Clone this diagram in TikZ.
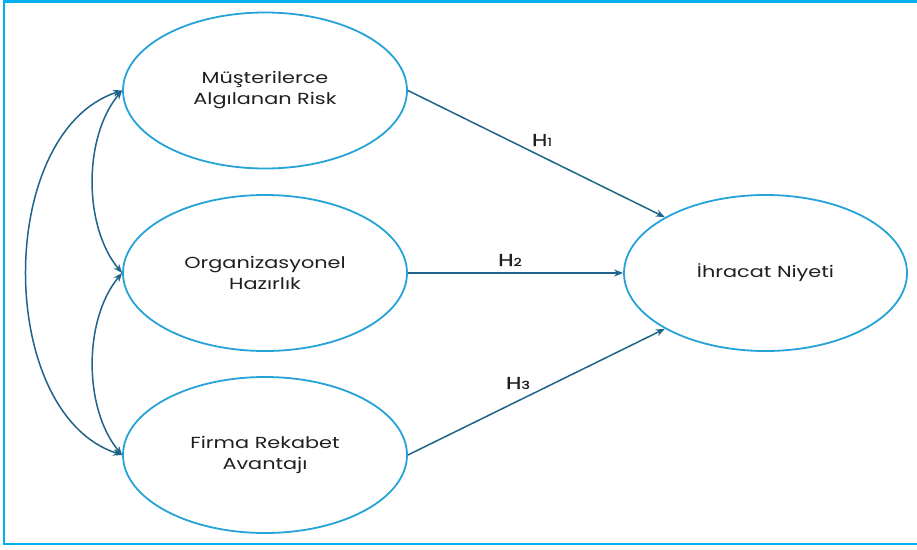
\documentclass[tikz,border=0pt]{standalone}
\usepackage{fontspec}
\setmainfont{Poppins}[FakeStretch=1.3]
\newfontfamily\hlabfont{Poppins}[FakeStretch=1.3,FakeBold=1.3]
\usetikzlibrary{arrows.meta,shapes.geometric}
\definecolor{frameblue}{HTML}{00B0F0}
\definecolor{ellblue}{HTML}{25A2D8}
\definecolor{arrteal}{HTML}{1F6388}
\begin{document}
\begin{tikzpicture}[x=1pt,y=-1pt,
  latent/.style={draw=ellblue,line width=1.8pt,ellipse,minimum width=284pt,minimum height=156pt,inner sep=0pt,align=center,
     font=\fontsize{16}{21}\selectfont,text=black!88},
  path/.style={draw=arrteal,line width=1.5pt,-{Stealth[length=9pt,width=7pt]}},
  cov/.style={draw=arrteal,line width=1.5pt,{Stealth[length=9pt,width=7pt]}-{Stealth[length=9pt,width=7pt]}},
  hlab/.style={font=\hlabfont\fontsize{17}{17}\selectfont,text=black!88}]
\useasboundingbox (0,0) rectangle (917,549);
\begin{scope}
\clip (0,0) rectangle (917,549);
\draw[frameblue,line width=2.2pt] (4,1.5) rectangle (930,544);
\end{scope}
\node[latent] (mar) at (265,90.5) {Müşterilerce\\Algılanan Risk};
\node[latent] (oh) at (265,273) {Organizasyonel\\Hazırlık};
\node[latent] (fra) at (265,455) {Firma Rekabet\\Avantajı};
\node[latent,minimum width=283pt] (in) at (765.5,273) {İhracat Niyeti};
\draw[path] (mar.east) -- (in.151);
\draw[path] (oh.east) -- (in.west);
\draw[path] (fra.east) -- (in.209);
\node[hlab] (h1) at (542,140) {H{\fontsize{11}{11}\selectfont 1}};
\node[hlab] (h2) at (510,260) {H{\fontsize{11}{11}\selectfont 2}};
\node[hlab] (h3) at (518,383) {H{\fontsize{11}{11}\selectfont 3}};
\draw[cov] (mar.west) to[out=198,in=162,looseness=0.94] (fra.west);
\draw[cov] (mar.west) to[out=230,in=130,looseness=0.85] (oh.west);
\draw[cov] (oh.west) to[out=230,in=130,looseness=0.85] (fra.west);
\end{tikzpicture}
\end{document}
